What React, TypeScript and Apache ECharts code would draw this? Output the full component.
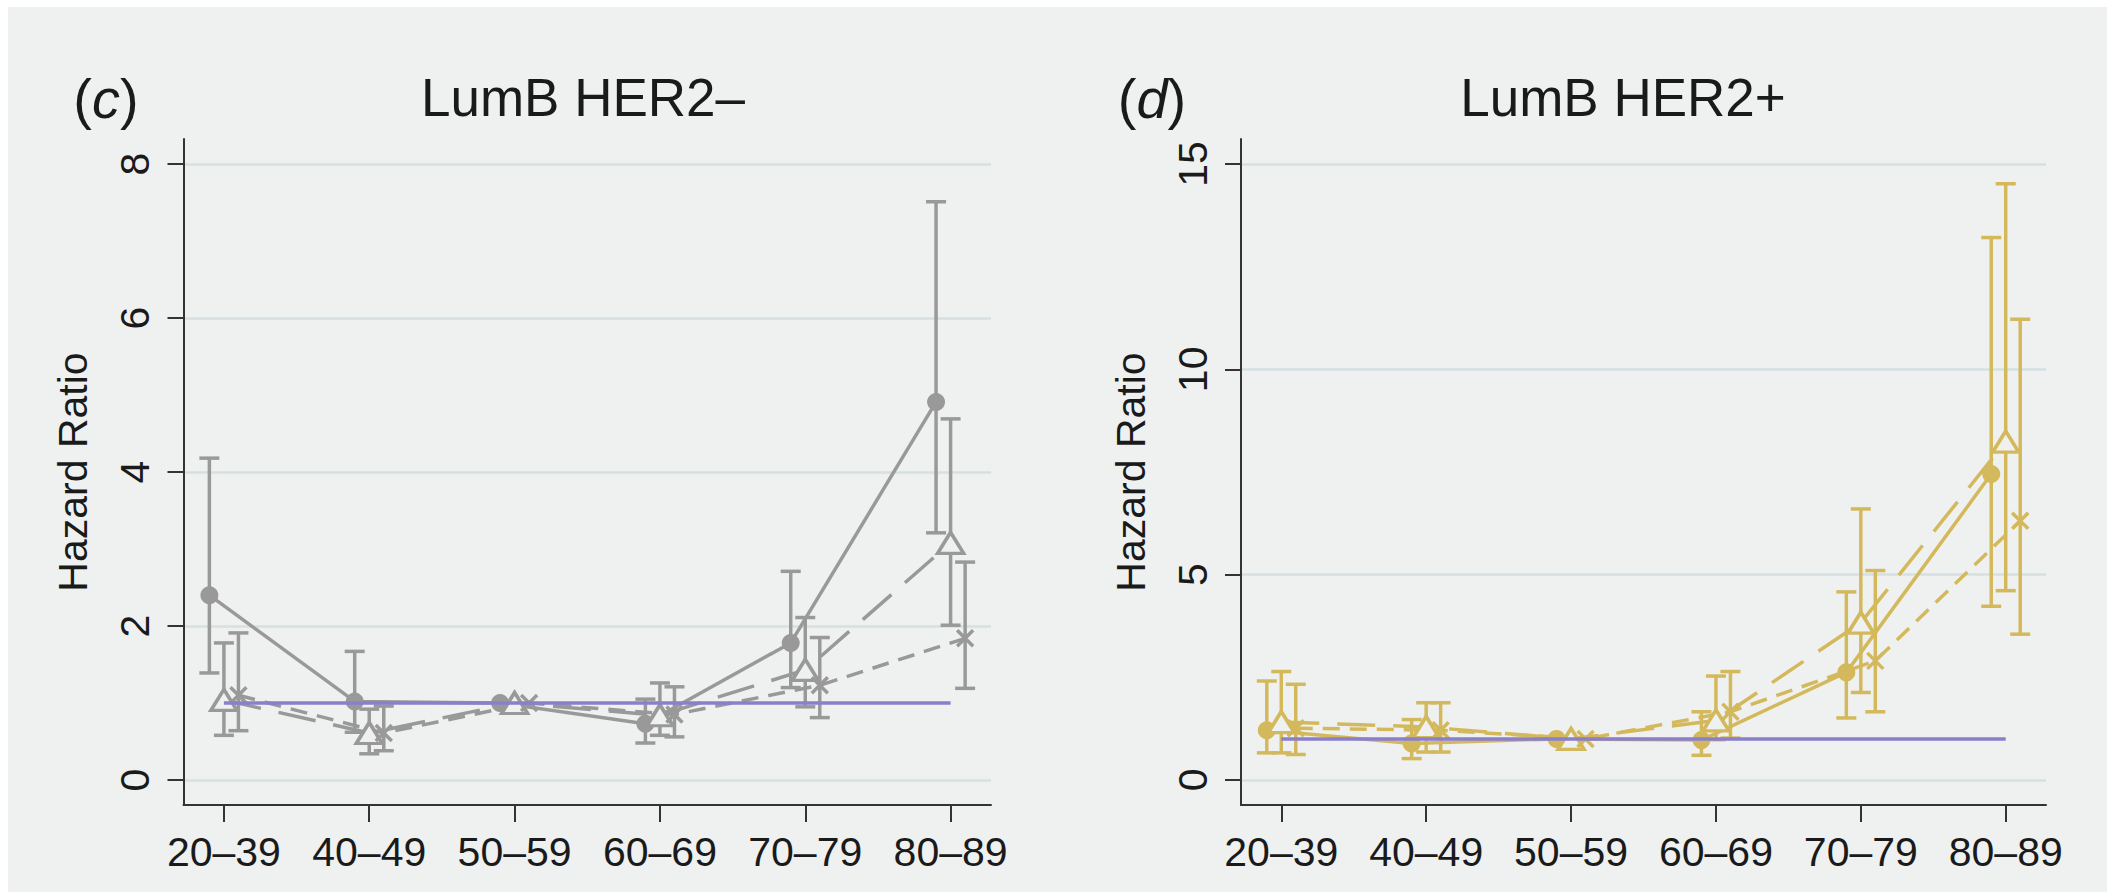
import React, { useEffect, useRef } from "react";
import * as echarts from "echarts";

// ---- Data ----
const ageGroups = ["20–39", "40–49", "50–59", "60–69", "70–79", "80–89"];
const panelTitles = ["LumB HER2–", "LumB HER2+"];
const panelLetters = ["c", "d"];
const yTicksC = [0, 2, 4, 6, 8];
const yTicksD = [0, 5, 10, 15];
const xTicks = [0, 1, 2, 3, 4, 5];
const referenceHR = [1, 1, 1, 1, 1, 1];

// Panel (c) LumB HER2-
const cCircleHR = [2.4, 1.02, 1.0, 0.73, 1.78, 4.91];
const cCircleLo = [1.39, 0.62, null, 0.48, 1.2, 3.21];
const cCircleHi = [4.18, 1.67, null, 1.05, 2.71, 7.51];
const cTriHR = [1.04, 0.61, 1.0, 0.84, 1.43, 3.08];
const cTriLo = [0.58, 0.34, null, 0.58, 0.95, 2.01];
const cTriHi = [1.78, 0.92, null, 1.26, 2.11, 4.69];
const cCrossHR = [1.1, 0.61, 1.0, 0.85, 1.23, 1.84];
const cCrossLo = [0.64, 0.38, null, 0.56, 0.81, 1.19];
const cCrossHi = [1.91, 0.96, null, 1.21, 1.85, 2.83];

// Panel (d) LumB HER2+
const dCircleHR = [1.21, 0.89, 1.0, 0.97, 2.62, 7.45];
const dCircleLo = [0.66, 0.52, null, 0.6, 1.51, 4.23];
const dCircleHi = [2.41, 1.47, null, 1.66, 4.58, 13.21];
const dTriHR = [1.41, 1.29, 1.0, 1.45, 3.83, 8.24];
const dTriLo = [0.66, 0.68, null, 0.98, 2.13, 4.61];
const dTriHi = [2.64, 1.88, null, 2.53, 6.6, 14.52];
const dCrossHR = [1.26, 1.21, 1.0, 1.66, 2.9, 6.31];
const dCrossLo = [0.62, 0.68, null, 1.02, 1.66, 3.55];
const dCrossHi = [2.33, 1.88, null, 2.64, 5.1, 11.22];

// ---- Styles ----
const BG = "#eff1f0";
const GRID = "#d6e0e2";
const AXIS = "#333333";
const TEXT = "#1a1a1a";
const GRAY = "#999999";
const GOLD = "#d3b95c";
const PURPLE = "#8a7fcc";
const FONT = "'Liberation Sans', Arial, Helvetica, sans-serif";
const CROSS = "path://M0,0L20,20M20,0L0,20";
const LW = 3.5;

type Group = { hr: number[]; lo: (number | null)[]; hi: (number | null)[]; dx: number; symbol: string; size: any; dash: any; hollow: boolean };

function panelSeries(idx: number, color: string, groups: Group[]) {
  const out: any[] = [];
  groups.forEach((g, gi) => {
    const rows: number[][] = [];
    g.hr.forEach((_, i) => {
      const lo = g.lo[i];
      const hi = g.hi[i];
      if (lo != null && hi != null) rows.push([i + g.dx, lo, hi]);
    });
    out.push({
      type: "custom",
      name: `err-${idx}-${gi}`,
      xAxisIndex: idx,
      yAxisIndex: idx,
      encode: { x: 0, y: [1, 2] },
      data: rows,
      z: 2,
      renderItem: (params: any, api: any) => {
        const x = api.value(0);
        const top = api.coord([x, api.value(2)]);
        const bot = api.coord([x, api.value(1)]);
        const w = 10;
        const st = { stroke: color, lineWidth: LW };
        return {
          type: "group",
          children: [
            { type: "line", shape: { x1: top[0], y1: top[1], x2: bot[0], y2: bot[1] }, style: st },
            { type: "line", shape: { x1: top[0] - w, y1: top[1], x2: top[0] + w, y2: top[1] }, style: st },
            { type: "line", shape: { x1: bot[0] - w, y1: bot[1], x2: bot[0] + w, y2: bot[1] }, style: st },
          ],
        };
      },
    });
  });
  groups.forEach((g, gi) => {
    out.push({
      type: "line",
      name: `hr-${idx}-${gi}`,
      xAxisIndex: idx,
      yAxisIndex: idx,
      data: g.hr.map((v, i) => [i + g.dx, v]),
      symbol: g.symbol,
      symbolSize: g.size,
      showSymbol: true,
      z: 3,
      lineStyle: { color, width: LW, type: g.dash },
      itemStyle: g.hollow
        ? { color: BG, borderColor: color, borderWidth: LW }
        : { color, borderColor: color, borderWidth: 0 },
    });
  });
  out.push({
    type: "line",
    name: `ref-${idx}`,
    xAxisIndex: idx,
    yAxisIndex: idx,
    data: referenceHR.map((v, i) => [i, v]),
    symbol: "none",
    z: 5,
    lineStyle: { color: PURPLE, width: 3.5 },
  });
  return out;
}

function makeGroups(hr: number[][], lo: (number | null)[][], hi: (number | null)[][]): Group[] {
  return [
    { hr: hr[0], lo: lo[0], hi: hi[0], dx: -0.1, symbol: "circle", size: 18, dash: "solid", hollow: false },
    { hr: hr[1], lo: lo[1], hi: hi[1], dx: 0, symbol: "triangle", size: [26, 21], dash: [38, 18], hollow: true },
    { hr: hr[2], lo: lo[2], hi: hi[2], dx: 0.1, symbol: CROSS, size: 16, dash: [17, 10], hollow: true },
  ];
}

function xAxis(idx: number) {
  return {
    type: "value",
    gridIndex: idx,
    min: -0.278,
    max: 5.278,
    axisLine: { show: true, onZero: false, lineStyle: { color: AXIS, width: 2 } },
    axisTick: { show: true, length: 17, customValues: xTicks, lineStyle: { color: AXIS, width: 2 } },
    axisLabel: {
      customValues: xTicks,
      formatter: (v: number) => ageGroups[Math.round(v)],
      fontSize: 41,
      fontFamily: FONT,
      color: TEXT,
      margin: 26,
    },
    splitLine: { show: false },
  };
}

function yAxis(idx: number, min: number, max: number, ticks: number[]) {
  return {
    type: "value",
    gridIndex: idx,
    min,
    max,
    axisLine: { show: true, onZero: false, lineStyle: { color: AXIS, width: 2 } },
    axisTick: { show: true, length: 16, customValues: ticks, lineStyle: { color: AXIS, width: 2 } },
    axisLabel: {
      customValues: ticks,
      rotate: 90,
      fontSize: 41,
      fontFamily: FONT,
      color: TEXT,
      margin: 28,
    },
    splitLine: { show: true, lineStyle: { color: GRID, width: 2.5 } },
    name: "Hazard Ratio",
    nameLocation: "middle",
    nameRotate: 90,
    nameGap: 90,
    nameTextStyle: { fontSize: 41, fontFamily: FONT, color: TEXT },
  };
}

function titleText(x: number, text: string) {
  return {
    type: "text",
    x,
    y: 90,
    style: { text, fontSize: 53, fontFamily: FONT, fill: TEXT, align: "center", verticalAlign: "middle" },
  };
}

function letterText(x: number, letter: string) {
  return {
    type: "text",
    x,
    y: 91,
    style: {
      text: `{n|(}{i|${letter}}{n|)}`,
      align: "center",
      verticalAlign: "middle",
      rich: {
        n: { fontSize: 56, fontFamily: FONT, fill: TEXT, fontWeight: 300 },
        i: { fontSize: 56, fontFamily: FONT, fill: TEXT, fontStyle: "italic" },
      },
    },
  };
}

export default function App() {
  const ref = useRef<HTMLDivElement>(null);
  useEffect(() => {
    if (!ref.current) return;
    const chart = echarts.init(ref.current, undefined, { renderer: "svg" });
    const gC = makeGroups([cCircleHR, cTriHR, cCrossHR], [cCircleLo, cTriLo, cCrossLo], [cCircleHi, cTriHi, cCrossHi]);
    const gD = makeGroups([dCircleHR, dTriHR, dCrossHR], [dCircleLo, dTriLo, dCrossLo], [dCircleHi, dTriHi, dCrossHi]);
    chart.setOption({
      animation: false,
      backgroundColor: BG,
      textStyle: { fontFamily: FONT },
      grid: [
        { left: 175.5, top: 132, width: 807.5, height: 666 },
        { left: 1233, top: 132, width: 805, height: 666 },
      ],
      xAxis: [xAxis(0), xAxis(1)],
      yAxis: [yAxis(0, -0.325, 8.325, yTicksC), yAxis(1, -0.61, 15.61, yTicksD)],
      series: [...panelSeries(0, GRAY, gC), ...panelSeries(1, GOLD, gD)],
      graphic: [
        titleText(575, panelTitles[0]),
        titleText(1615, panelTitles[1]),
        letterText(98, panelLetters[0]),
        letterText(1144, panelLetters[1]),
      ],
    });
    return () => chart.dispose();
  }, []);
  return (
    <div
      ref={ref}
      style={{ position: "fixed", left: 8, top: 7, width: 2099, height: 885 }}
    />
  );
}
